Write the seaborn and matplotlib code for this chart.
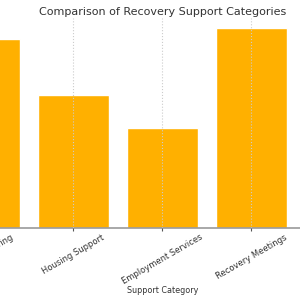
import matplotlib
matplotlib.use("Agg")
import matplotlib.pyplot as plt
import seaborn as sns
import pandas as pd

categories = ["Peer Mentoring", "Housing Support", "Employment Services", "Recovery Meetings", "Other"]
values = [94.5, 66.5, 50, 100, 80]

sns.set_style("white")
plt.rcParams['font.family'] = ['DejaVu Sans']

fig = plt.figure(figsize=(3, 3), dpi=100)
ax = fig.add_axes([-0.2, 0.24, 1.4833, 0.70])
df = pd.DataFrame({"Support Category": categories, "Count": values})
sns.barplot(data=df, x="Support Category", y="Count", color="#FFB000",
            saturation=1, width=0.8, ax=ax)
ax.set_ylim(0, 105)
ax.grid(axis='x', linestyle=':', color='#cccccc', linewidth=0.8)
ax.set_axisbelow(False)
for s in ["top", "right", "left"]:
    ax.spines[s].set_visible(False)
ax.spines["bottom"].set_color("#999999")
ax.spines["bottom"].set_linewidth(1.2)
ax.tick_params(axis='x', bottom=True, length=2.5, width=0.8, color='#555555', pad=1.0,
               labelsize=6, labelcolor='#333333', rotation=30)
ax.set_xlabel("Support Category", fontsize=5.8, color='#333333', labelpad=0)
ax.set_ylabel("")
ax.set_yticks([])
ax.set_title("Comparison of Recovery Support Categories", fontsize=8, color='#333333', pad=2.5)
fig.savefig("out.png", dpi=100)
